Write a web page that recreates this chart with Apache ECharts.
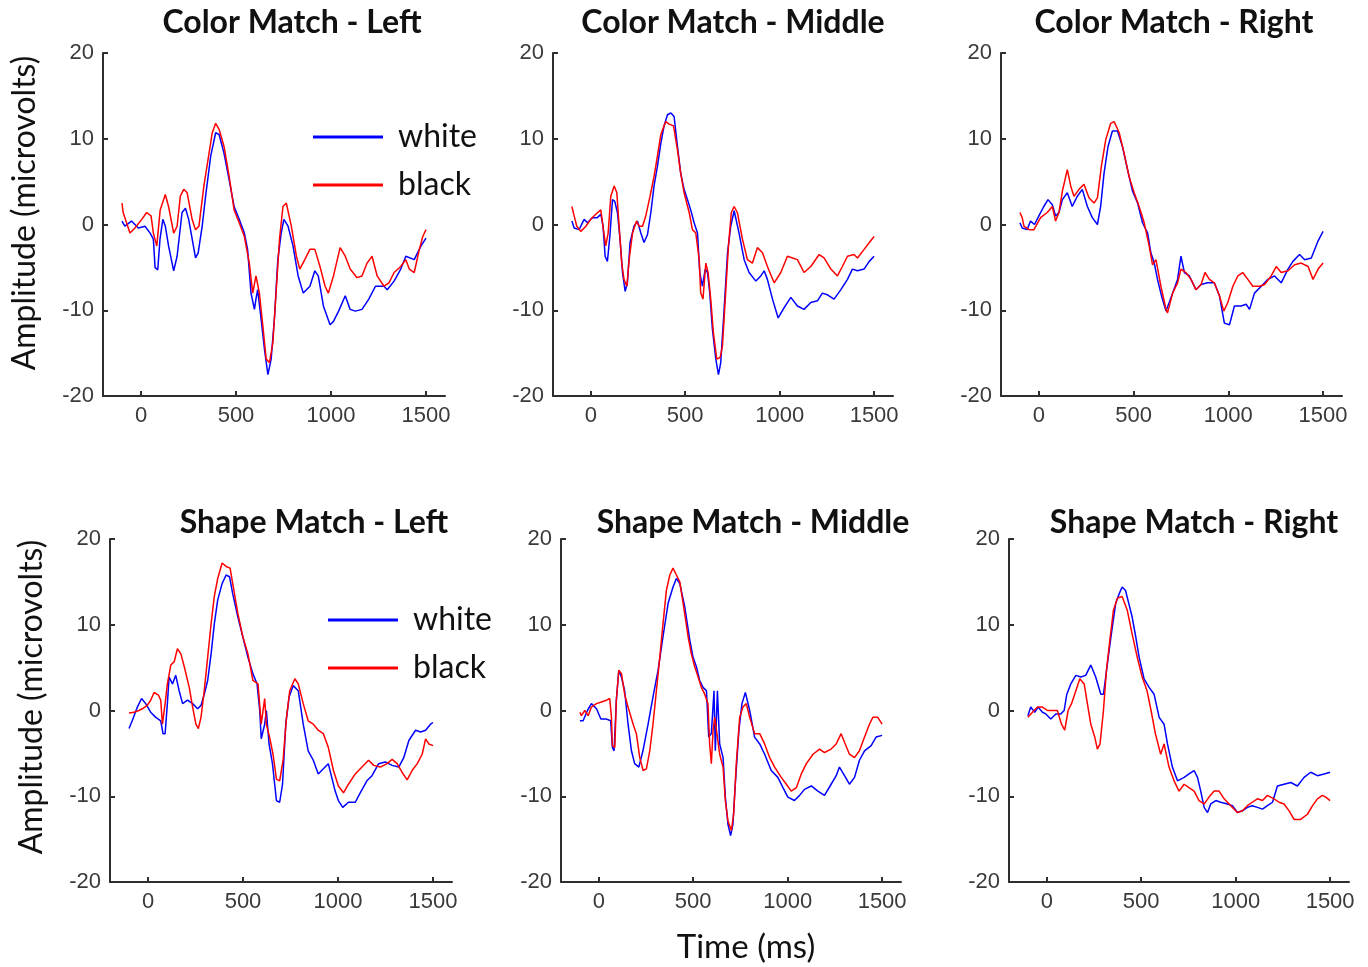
<!DOCTYPE html>
<html>
<head>
<meta charset="utf-8">
<script src="https://cdn.jsdelivr.net/npm/echarts@6/dist/echarts.min.js"></script>
<style>
html,body{margin:0;padding:0;background:#fff;}
#chart{width:1368px;height:967px;}
</style>
</head>
<body>
<div id="chart"></div>
<script>
// ---- Data: [time (ms), amplitude (microvolts)] ----
const panelTitles = ['Color Match - Left','Color Match - Middle','Color Match - Right','Shape Match - Left','Shape Match - Middle','Shape Match - Right'];
const seriesNames = ['white','black'];
const xTicks = [0, 500, 1000, 1500];
const yTicks = [-20, -10, 0, 10, 20];

const cmL_white = [[-100,0.4],[-85,-0.2],[-50,0.4],[-14,-0.4],[21,-0.2],[48,-1],[65,-1.7],[74,-5],[88,-5.3],[100,-1.7],[115,0.6],[128,-0.2],[145,-2.5],[172,-5.4],[190,-3.7],[216,1.4],[234,1.9],[251,0.6],[287,-3.9],[301,-3.3],[322,-0.2],[340,3.3],[367,8],[393,10.7],[411,10.5],[437,8.3],[464,5.2],[490,2.1],[517,0.6],[544,-1],[561,-2.9],[579,-8],[597,-9.9],[605,-8.7],[614,-7.6],[632,-11],[650,-14.6],[668,-17.5],[685,-15.7],[703,-10.7],[720,-4.1],[738,-1],[752,0.6],[774,-0.2],[800,-2.5],[827,-6],[854,-8],[889,-7.2],[915,-5.4],[933,-6],[960,-9.5],[995,-11.7],[1013,-11.3],[1040,-10.1],[1075,-8.3],[1101,-9.9],[1128,-10.1],[1163,-9.9],[1199,-8.7],[1234,-7.2],[1279,-7.2],[1296,-7.6],[1332,-6.6],[1367,-5.2],[1394,-3.7],[1438,-4.1],[1474,-2.5],[1500,-1.6]];
const cmL_black = [[-100,2.5],[-94,1.4],[-76,0.2],[-58,-1],[-32,-0.4],[4,0.6],[30,1.4],[53,1],[65,-1],[83,-2.5],[101,1.7],[128,3.5],[145,2.1],[172,-1],[190,-0.2],[207,3.3],[225,4.1],[243,3.7],[269,0.6],[287,-0.6],[305,-0.2],[331,4.5],[358,8.3],[375,10.7],[393,11.8],[411,11.1],[437,9.1],[464,5.6],[490,1.7],[517,0.2],[544,-1.4],[570,-4.5],[588,-8],[605,-6],[623,-8],[641,-11.8],[659,-15.7],[676,-16.1],[694,-13.8],[712,-7.6],[729,-1.7],[747,2.1],[765,2.5],[791,-0.2],[818,-3.7],[836,-5.2],[862,-4.1],[889,-2.9],[915,-2.9],[942,-4.9],[969,-7.2],[986,-8],[1013,-6],[1048,-2.7],[1075,-3.7],[1101,-5.2],[1137,-6.2],[1163,-6],[1190,-4.5],[1216,-3.7],[1243,-6],[1279,-7.2],[1305,-6.8],[1332,-5.6],[1367,-4.9],[1394,-4.1],[1412,-5.2],[1438,-5.6],[1465,-2.9],[1483,-1.4],[1500,-0.6]];

const cmM_white = [[-100,0.4],[-88,-0.4],[-62,-0.6],[-35,0.6],[-18,0.2],[9,0.8],[35,0.8],[53,1.2],[65,-0.2],[76,-3.7],[88,-4.3],[101,-1.4],[115,2.9],[127,2.7],[141,1.4],[155,-1.7],[168,-5.6],[182,-7.8],[194,-6.8],[208,-2.1],[229,-0.2],[247,0.4],[265,-1],[282,-2.1],[300,-1.2],[318,1.4],[335,4.5],[353,6.8],[371,9.5],[388,11.5],[406,12.8],[424,13],[441,12.6],[459,9.1],[476,6],[494,4.1],[512,2.9],[529,1.7],[547,0.2],[565,-1],[577,-5.6],[591,-7.2],[606,-5.2],[618,-5.6],[630,-8],[644,-12.2],[662,-15.7],[676,-17.5],[688,-16.1],[706,-9.9],[724,-3.3],[741,-0.2],[759,1.6],[785,-1],[812,-4.1],[838,-5.6],[874,-6.6],[900,-6],[918,-5.4],[935,-6.4],[962,-8.7],[992,-10.9],[1024,-9.7],[1059,-8.5],[1094,-9.5],[1129,-9.9],[1165,-9.1],[1200,-8.9],[1226,-8],[1253,-8.2],[1288,-8.7],[1324,-7.6],[1359,-6.4],[1385,-5.2],[1412,-5.4],[1447,-5.2],[1474,-4.3],[1500,-3.7]];
const cmM_black = [[-100,2.1],[-88,1],[-74,-0.2],[-53,-0.8],[-26,-0.2],[0,0.6],[26,1.2],[53,1.7],[67,-0.6],[79,-2.5],[92,-1],[106,3.3],[124,4.5],[138,3.7],[150,-0.2],[164,-4.5],[176,-6.4],[191,-7.2],[203,-4.1],[221,-1],[242,0.4],[256,-0.2],[274,-0.2],[291,1],[314,3.3],[335,5.6],[353,8],[371,10.5],[388,11.5],[397,12],[415,11.7],[438,11.5],[459,8.7],[476,6],[494,3.7],[521,1.4],[538,-0.6],[556,-1],[574,-4.1],[582,-8],[594,-8.7],[609,-4.5],[621,-5.6],[635,-8.7],[649,-12.6],[667,-15.7],[685,-15.5],[697,-14.2],[715,-7.6],[729,-2.5],[744,1.4],[759,2.1],[776,1.4],[803,-1.7],[829,-4.1],[856,-4.5],[882,-2.7],[909,-3.3],[935,-4.9],[971,-6.8],[1006,-5.6],[1041,-3.7],[1068,-3.9],[1094,-4.1],[1129,-5.6],[1165,-4.9],[1209,-3.5],[1235,-3.9],[1271,-5.2],[1306,-6],[1332,-4.9],[1359,-3.7],[1394,-3.5],[1412,-3.9],[1447,-2.9],[1482,-1.9],[1500,-1.4]];

const cmR_white = [[-100,0.2],[-88,-0.4],[-62,-0.6],[-44,0.4],[-23,0],[0,1],[26,2.1],[48,2.9],[71,2.3],[88,1],[106,1.4],[124,2.9],[150,3.7],[176,2.1],[203,3.3],[229,4.1],[256,2.1],[282,0.8],[309,0],[326,2.1],[344,6],[365,9.1],[388,10.9],[415,10.9],[441,9.1],[468,6.4],[494,3.9],[521,2.5],[547,0.2],[574,-1],[591,-3.3],[609,-4.5],[626,-6.4],[647,-8.3],[671,-10.1],[688,-9.1],[706,-8],[732,-6.4],[750,-3.7],[768,-5.6],[794,-6],[829,-7.6],[856,-7],[891,-6.8],[926,-6.8],[953,-8.3],[979,-11.5],[1006,-11.7],[1032,-9.5],[1068,-9.5],[1094,-9.3],[1112,-9.9],[1138,-8],[1174,-7.2],[1209,-6.4],[1244,-6],[1279,-6.8],[1315,-5.2],[1341,-4.3],[1376,-3.5],[1403,-4.1],[1438,-3.9],[1474,-1.9],[1500,-0.8]];
const cmR_black = [[-100,1.4],[-88,0.8],[-79,-0.2],[-53,-0.6],[-26,-0.6],[9,0.8],[44,1.4],[71,2.1],[88,0.4],[106,1.4],[124,3.9],[150,6.4],[168,4.5],[185,3.3],[212,4.1],[238,4.7],[265,3.1],[291,2.5],[309,3.1],[330,6.8],[353,9.9],[379,11.8],[397,12],[424,10.7],[450,8.3],[476,5.6],[503,3.7],[529,2.1],[556,0.2],[582,-2.5],[600,-4.7],[618,-4.1],[644,-7.2],[671,-9.9],[679,-10.3],[706,-8],[732,-6.8],[750,-5.2],[776,-5.6],[803,-6.4],[829,-7.6],[856,-7],[877,-5.6],[900,-6.4],[926,-6.8],[953,-8.3],[976,-10.1],[997,-9.1],[1024,-7.2],[1050,-6],[1076,-5.6],[1103,-6.4],[1129,-7.2],[1165,-7.2],[1191,-7],[1226,-6],[1253,-4.9],[1279,-5.6],[1315,-5.4],[1350,-4.7],[1385,-4.5],[1421,-4.9],[1447,-6.4],[1474,-5.2],[1500,-4.5]];

const smL_white = [[-100,-2.1],[-83,-1.2],[-56,0.4],[-34,1.4],[-12,0.8],[14,-0.2],[41,-0.8],[67,-1.2],[79,-2.7],[90,-2.7],[102,0.8],[111,3.9],[129,3.1],[146,4.1],[164,2.3],[182,0.8],[208,1.2],[235,0.8],[261,0.2],[279,0.6],[296,1.9],[314,3.5],[332,6.6],[349,10.1],[367,12.9],[390,14.8],[411,15.8],[429,15.6],[446,13.6],[473,10.9],[499,8.6],[526,6.2],[552,4.3],[574,3.1],[588,0],[596,-3.3],[614,-1.6],[623,0],[637,-3.9],[655,-6.2],[676,-10.5],[693,-10.7],[708,-8.6],[725,-1.6],[743,1.6],[764,2.9],[791,2.3],[817,-1.6],[843,-4.7],[870,-5.8],[896,-7.4],[923,-6.8],[949,-6.2],[967,-7.8],[985,-9.4],[1002,-10.5],[1025,-11.3],[1055,-10.7],[1091,-10.7],[1117,-9.6],[1152,-8.2],[1179,-7.6],[1214,-6.2],[1249,-6],[1285,-6.4],[1320,-6.6],[1346,-5.5],[1373,-3.5],[1408,-2.3],[1435,-2.5],[1461,-2.3],[1487,-1.6],[1500,-1.4]];
const smL_black = [[-100,-0.3],[-74,-0.2],[-48,0],[-30,0.2],[-4,0.6],[14,1.2],[32,2.1],[55,1.8],[67,1.2],[76,-1.6],[90,0.8],[102,3.1],[120,5.3],[138,5.7],[155,7.2],[173,6.6],[191,5.1],[217,2.7],[235,0.4],[252,-1.6],[265,-2.1],[279,-0.8],[296,2.3],[314,6.2],[332,10.1],[349,13.3],[367,15.4],[390,17.2],[411,16.8],[432,16.6],[446,14.8],[473,11.3],[499,8.6],[526,6.6],[552,3.5],[579,3.1],[596,-1.6],[614,1.4],[623,-1.6],[640,-3.1],[658,-5.1],[676,-8],[693,-8.2],[711,-5.8],[729,-0.8],[746,2.3],[773,3.7],[791,3.1],[817,0.8],[843,-1.2],[870,-1.6],[896,-2.3],[923,-2.7],[949,-4.3],[976,-7],[1002,-8.8],[1029,-9.6],[1055,-8.6],[1091,-7.4],[1126,-6.6],[1161,-5.8],[1188,-6.4],[1223,-6.6],[1258,-6.2],[1285,-5.7],[1311,-6.2],[1337,-7.2],[1364,-8.1],[1390,-7],[1417,-6.2],[1443,-5.1],[1461,-3.3],[1478,-3.9],[1500,-4.1]];

const smM_white = [[-100,-1.2],[-83,-1.2],[-60,0],[-39,0.8],[-12,0.2],[11,-1],[41,-1],[63,-1.2],[72,-4.3],[81,-4.7],[93,1.2],[106,4.7],[120,3.9],[137,2.3],[155,-1.6],[173,-4.7],[190,-6.2],[212,-6.6],[234,-4.7],[261,-1.6],[287,1.6],[314,4.7],[340,8.6],[367,12.5],[393,14.4],[411,15.4],[429,14.8],[455,12.1],[482,8.2],[499,6.2],[517,5.1],[534,3.5],[552,2.7],[570,2.3],[582,-3.1],[596,-2.7],[610,2.3],[617,-4.7],[628,2.3],[640,-3.9],[658,-5.5],[670,-10.1],[684,-13.3],[698,-14.6],[710,-13.3],[725,-7.8],[742,-2.3],[758,0.8],[776,2.1],[799,0],[825,-3.1],[852,-3.9],[878,-5.1],[913,-7],[948,-7.8],[975,-9],[1001,-10.1],[1036,-10.5],[1063,-9.9],[1089,-9.2],[1125,-8.8],[1160,-9.4],[1195,-9.9],[1230,-8.6],[1257,-7.6],[1274,-6.6],[1301,-7.6],[1327,-8.6],[1354,-7.8],[1380,-5.8],[1407,-4.7],[1442,-4.1],[1468,-3.1],[1500,-2.9]];
const smM_black = [[-100,-0.2],[-92,-0.6],[-74,0],[-56,-0.6],[-39,0.4],[-12,0.8],[14,1],[41,1.2],[58,1.4],[67,-0.8],[72,-4.1],[85,-4.3],[93,1.2],[106,4.7],[120,4.3],[137,1.9],[155,0.4],[182,-1.6],[199,-2.7],[217,-5.5],[235,-7],[252,-6.8],[270,-4.7],[287,-1.6],[305,2.3],[323,6.2],[340,10.1],[358,14],[376,15.8],[393,16.6],[411,15.8],[429,15],[452,11.7],[473,8.6],[490,6.6],[508,5.1],[526,3.9],[543,2.7],[561,1.9],[578,0.8],[587,-3.9],[596,-6.2],[605,-2.3],[614,-0.8],[628,-3.1],[640,-5.1],[658,-6.6],[670,-10.5],[684,-12.9],[702,-14],[714,-12.1],[728,-6.2],[746,-0.8],[763,0.4],[781,0.8],[799,-0.8],[825,-2.7],[852,-2.7],[878,-3.9],[905,-5.5],[931,-6.6],[966,-7.8],[993,-8.6],[1019,-9.4],[1046,-9],[1072,-7.4],[1099,-6.2],[1134,-5.1],[1169,-4.5],[1195,-4.9],[1230,-4.5],[1257,-3.9],[1283,-2.7],[1301,-3.7],[1327,-5.1],[1354,-5.5],[1380,-4.7],[1407,-3.1],[1433,-1.6],[1451,-0.8],[1477,-0.8],[1500,-1.6]];

const smR_white = [[-100,-0.6],[-85,0.4],[-64,-0.2],[-46,0.4],[-23,-0.2],[-5,-0.4],[21,-1],[48,-0.4],[74,-0.4],[92,0],[106,1.9],[127,3.1],[154,4.1],[180,3.9],[206,4.1],[233,5.3],[259,3.9],[286,1.9],[300,1.9],[312,3.9],[330,7],[348,9.9],[365,12.5],[383,13.6],[399,14.4],[417,14],[434,12.5],[452,10.9],[471,8.6],[489,6.2],[515,3.7],[542,2.7],[568,1.9],[595,-0.8],[621,-1.6],[639,-3.9],[665,-6.6],[692,-8.2],[727,-7.8],[753,-7.4],[780,-7],[798,-7.8],[815,-9.4],[833,-11.3],[851,-11.9],[868,-10.9],[895,-10.5],[921,-10.7],[956,-10.9],[983,-11.1],[1009,-11.9],[1036,-11.7],[1062,-11.3],[1088,-11.1],[1115,-11.3],[1142,-11.5],[1168,-11.1],[1195,-10.7],[1221,-8.8],[1256,-8.6],[1292,-8.4],[1327,-8.8],[1362,-7.8],[1397,-7.2],[1433,-7.6],[1468,-7.4],[1500,-7.2]];
const smR_black = [[-100,-0.8],[-76,-0.2],[-49,0.4],[-23,0.4],[4,0],[30,0],[56,0],[78,-1.6],[95,-2.3],[113,0],[131,0.8],[154,2.3],[175,3.7],[198,3.1],[215,0.8],[233,-1.6],[254,-3.1],[268,-4.5],[282,-3.9],[300,0],[316,4.7],[334,8.2],[353,11.7],[374,13.1],[399,13.3],[426,11.7],[452,8.9],[479,6.2],[505,3.9],[531,2.3],[552,0],[575,-2.7],[603,-5.1],[621,-3.9],[647,-6.6],[674,-8.2],[700,-9.4],[727,-8.6],[753,-9],[780,-9.4],[806,-10.5],[833,-10.9],[859,-10.1],[886,-9.4],[912,-9.4],[939,-10.3],[974,-11.1],[1009,-11.9],[1036,-11.7],[1062,-11.1],[1088,-10.7],[1115,-10.3],[1142,-10.5],[1168,-9.9],[1203,-10.3],[1230,-10.7],[1256,-10.9],[1283,-11.7],[1309,-12.7],[1344,-12.7],[1380,-12.1],[1407,-11.1],[1433,-10.3],[1459,-9.9],[1477,-10.1],[1500,-10.5]];

const panelData = [
  [cmL_white, cmL_black], [cmM_white, cmM_black], [cmR_white, cmR_black],
  [smL_white, smL_black], [smM_white, smM_black], [smR_white, smR_black]
];

// ---- Layout ----
const grids = [
  {left:103, top:53, width:342, height:343},
  {left:553, top:53, width:340, height:343},
  {left:1001, top:53, width:341, height:343},
  {left:110, top:539, width:342, height:343},
  {left:561, top:539, width:340, height:343},
  {left:1009, top:539, width:340, height:343}
];
const titlePos = [[292,23],[733,23],[1174,23],[314,523],[753,523],[1194,523]];
const colors = ['#0000ff', '#ff0000'];
const axisColor = '#2e2e2e';
const tickFont = 'Liberation Sans';
const textFont = 'Lato';

const chart = echarts.init(document.getElementById('chart'), null, {renderer:'canvas'});

const xAxes = [], yAxes = [], series = [];
grids.forEach((g, i) => {
  xAxes.push({
    type:'value', gridIndex:i, min:-200, max:1600,
    axisLine:{show:true, onZero:false, lineStyle:{color:axisColor, width:2}},
    axisTick:{show:true, inside:true, length:5, customValues:xTicks, lineStyle:{color:axisColor, width:2}},
    axisLabel:{customValues:xTicks, formatter: v => String(v), color:'#3a3a3a', fontFamily:tickFont, fontSize:22, margin:9},
    splitLine:{show:false}
  });
  yAxes.push({
    type:'value', gridIndex:i, min:-20, max:20, interval:10,
    axisLine:{show:true, onZero:false, lineStyle:{color:axisColor, width:2}},
    axisTick:{show:true, inside:true, length:5, lineStyle:{color:axisColor, width:2}},
    axisLabel:{formatter: v => String(v), color:'#3a3a3a', fontFamily:tickFont, fontSize:22, margin:9},
    splitLine:{show:false}
  });
  panelData[i].forEach((d, k) => {
    series.push({
      name: seriesNames[k], type:'line', xAxisIndex:i, yAxisIndex:i,
      data: d, showSymbol:false, symbol:'none',
      lineStyle:{color:colors[k], width:1.5}, itemStyle:{color:colors[k]},
      emphasis:{disabled:true}, z: 2 + k
    });
  });
});

const legendCommon = {
  orient:'vertical', itemWidth:70, itemHeight:3, itemGap:16, icon:'rect',
  data: seriesNames, selectedMode:false,
  textStyle:{fontFamily:textFont, fontSize:32, lineHeight:32, color:'#111', padding:[0,0,0,10]}
};

const graphics = [];
panelTitles.forEach((t, i) => {
  graphics.push({type:'text', x:titlePos[i][0], y:titlePos[i][1], style:{text:t, font:'bold 32px Lato', fill:'#111', align:'center', verticalAlign:'middle'}});
});
graphics.push({type:'text', x:25, y:213, rotation:Math.PI/2, style:{text:'Amplitude (microvolts)', font:'32px Lato', fill:'#111', align:'center', verticalAlign:'middle'}});
graphics.push({type:'text', x:32, y:697, rotation:Math.PI/2, style:{text:'Amplitude (microvolts)', font:'32px Lato', fill:'#111', align:'center', verticalAlign:'middle'}});
graphics.push({type:'text', x:746, y:947, style:{text:'Time (ms)', font:'33px Lato', fill:'#111', align:'center', verticalAlign:'middle'}});

chart.setOption({
  animation:false,
  backgroundColor:'#fff',
  grid: grids.map(g => Object.assign({containLabel:false}, g)),
  xAxis: xAxes,
  yAxis: yAxes,
  series: series,
  legend: [
    Object.assign({left:308, top:116}, legendCommon),
    Object.assign({left:323, top:599}, legendCommon)
  ],
  graphic: graphics
});
</script>
</body>
</html>
